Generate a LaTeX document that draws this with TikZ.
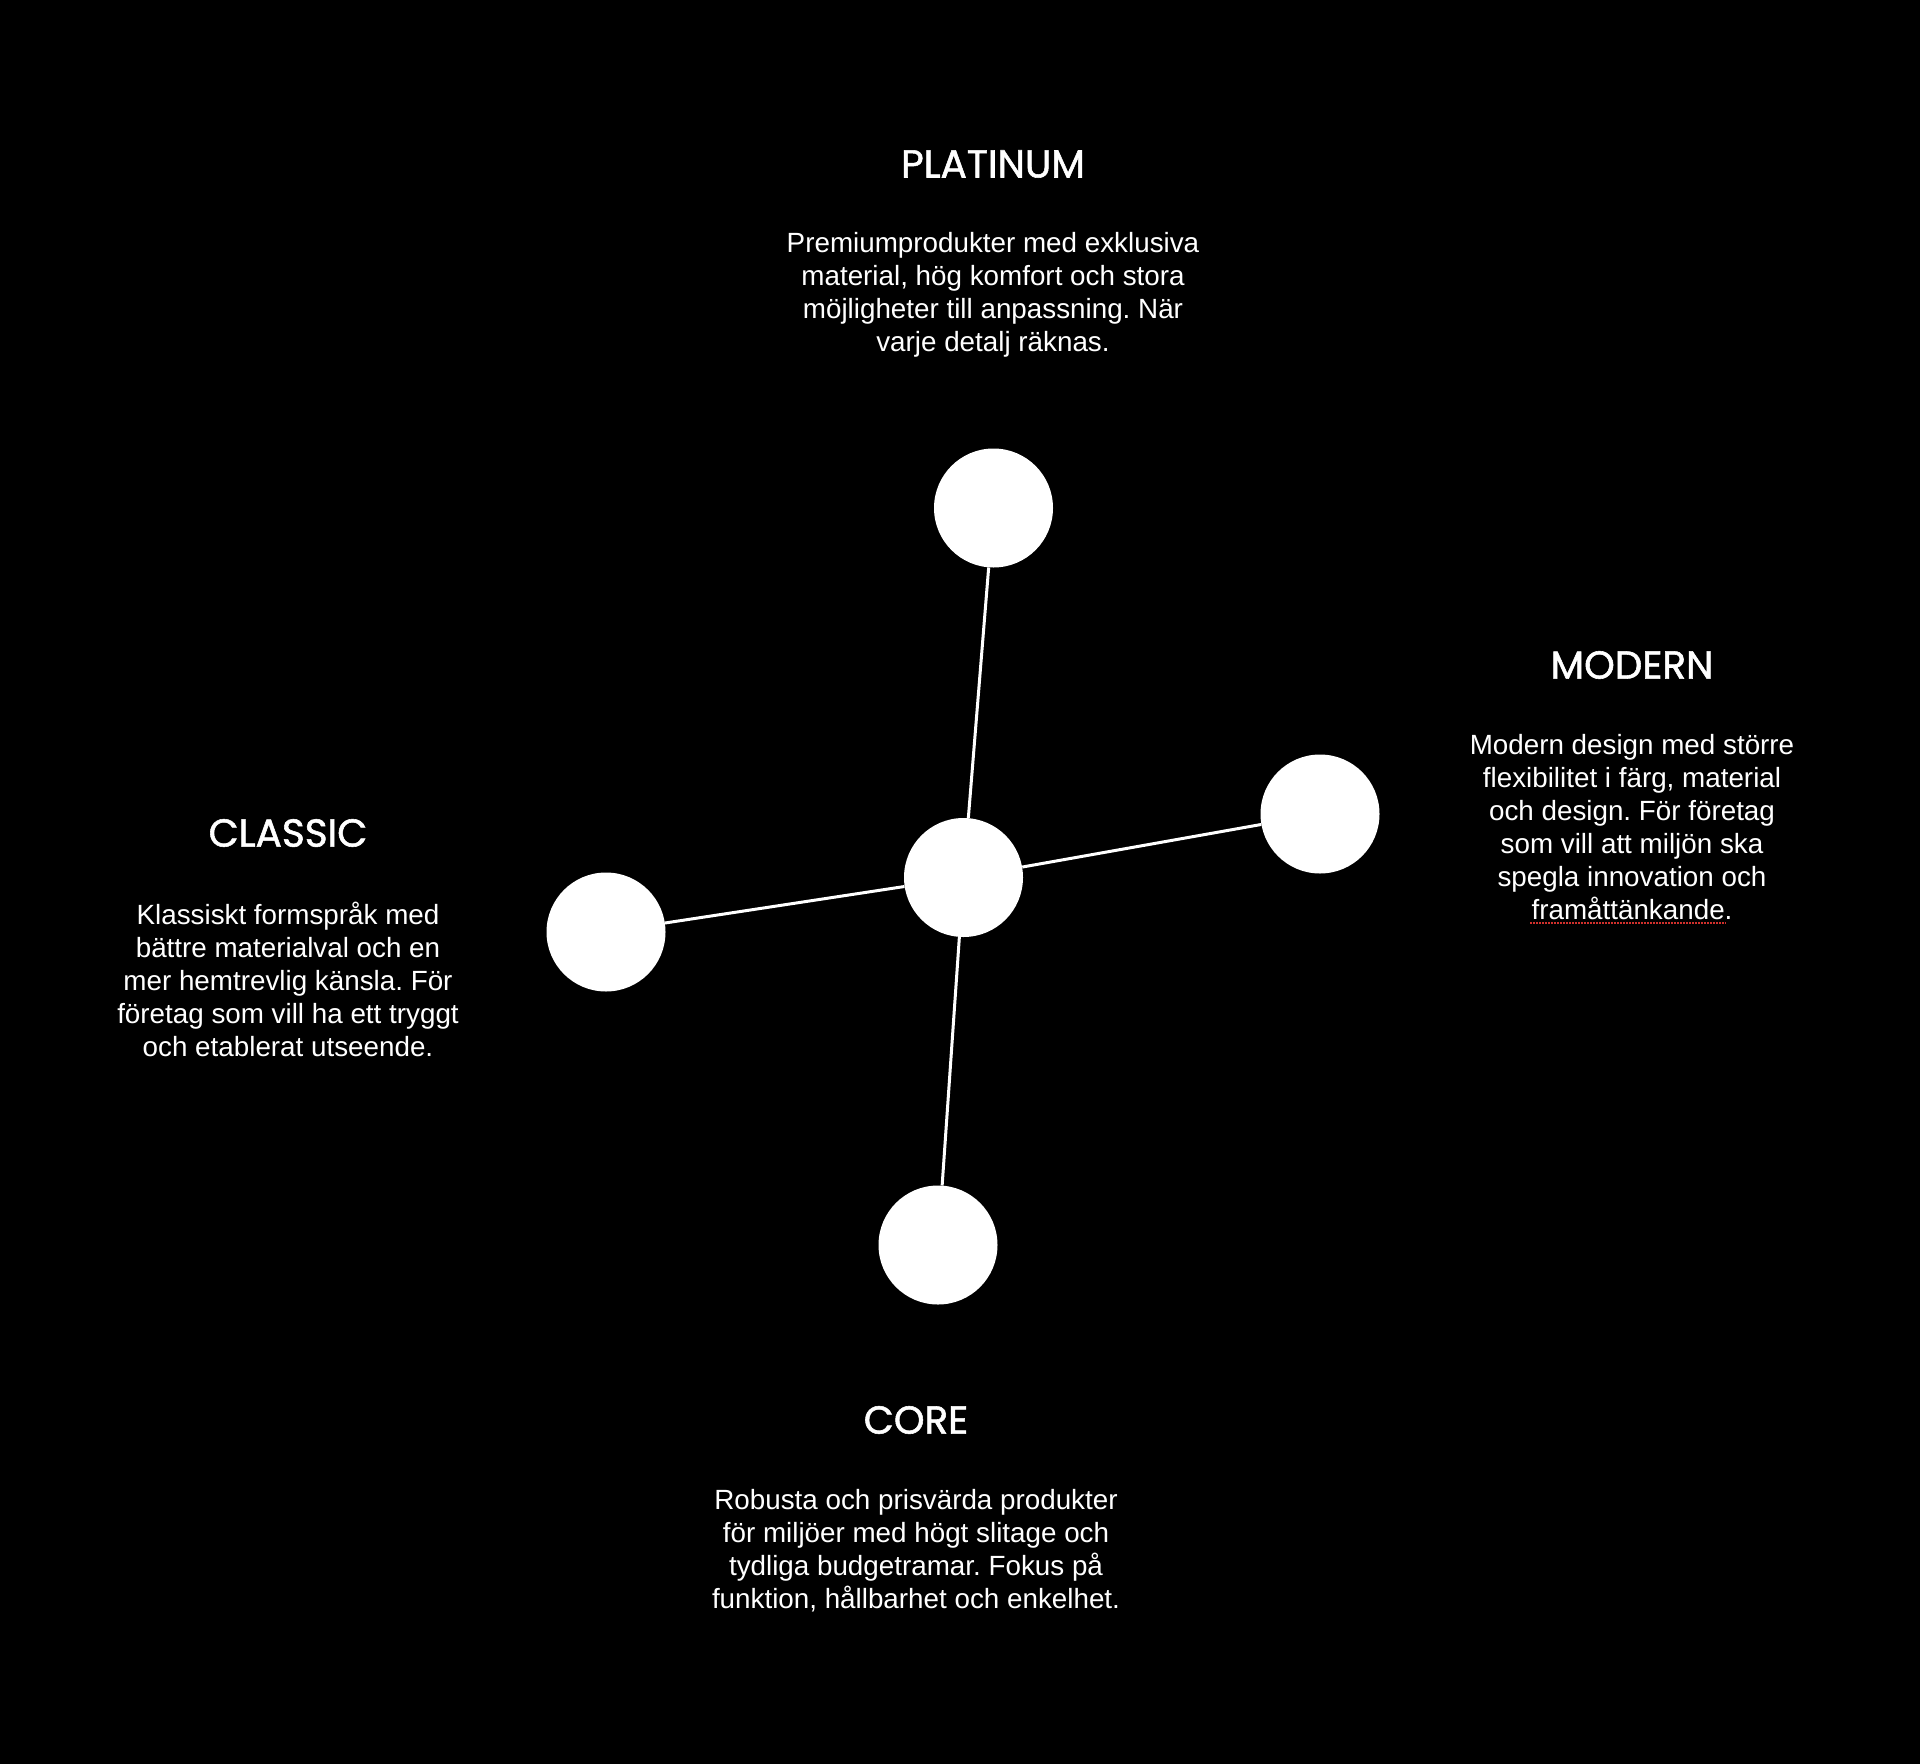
\documentclass[tikz,border=0pt]{standalone}
\usepackage{fontspec}
\setmainfont{Liberation Sans}
\newfontfamily\titlefont{Poppins}[FakeBold=1.4]
\usepackage{xcolor}
\definecolor{bgBlack}{HTML}{000000}
\definecolor{spellRed}{HTML}{D0302C}
\usetikzlibrary{positioning}

\tikzset{
  dot/.style={circle, fill=white, draw=none, minimum size=119pt, inner sep=0pt},
  link/.style={draw=white, line width=3pt},
  tier/.style={text=white, font=\titlefont\fontsize{39}{44}\selectfont},
  blurb/.style={text=white, align=center, font=\fontsize{27.8}{33}\selectfont}
}

\begin{document}
\frenchspacing
\begin{tikzpicture}[x=1pt, y=-1pt]
  % Background and fixed frame
  \fill[bgBlack] (0,0) rectangle (1920,1764);
  \useasboundingbox (0,0) rectangle (1920,1764);
  % Circles
  \node[dot] (hub) at (963.5, 877.5) {};
  \node[dot] (platinum) at (993.5, 508) {};
  \node[dot] (modern) at (1320, 814) {};
  \node[dot] (classic) at (606, 932) {};
  \node[dot] (core) at (938, 1245) {};
  % Spokes from the hub
  \draw[link] (hub) -- (platinum);
  \draw[link] (hub) -- (modern);
  \draw[link] (hub) -- (classic);
  \draw[link] (hub) -- (core);
  % Platinum text
  \node[tier] (platinumTitle) at (993, 164) {PLATINUM};
  \node[blurb] (platinumText) at (993, 295) {Premiumprodukter med exklusiva\\material, hög komfort och stora\\möjligheter till anpassning. När\\varje detalj räknas.};
  % Modern text
  \node[tier] (modernTitle) at (1632, 665) {MODERN};
  \node[blurb] (modernText) at (1632, 827) {Modern design med större\\flexibilitet i färg, material\\och design. För företag\\som vill att miljön ska\\spegla innovation och\\framåttänkande.};
  \draw[spellRed, line width=1.5pt, dash pattern=on 1.5pt off 1.5pt] (1530, 923) -- (1726, 923);
  % Classic text
  \node[tier] (classicTitle) at (288, 833) {CLASSIC};
  \node[blurb] (classicText) at (288, 979) {Klassiskt formspråk med\\bättre materialval och en\\mer hemtrevlig känsla. För\\företag som vill ha ett tryggt\\och etablerat utseende.};
  % Core text
  \node[tier] (coreTitle) at (916, 1420) {CORE};
  \node[blurb] (coreText) at (916, 1551) {Robusta och prisvärda produkter\\för miljöer med högt slitage och\\tydliga budgetramar. Fokus på\\funktion, hållbarhet och enkelhet.};
\end{tikzpicture}
\end{document}
